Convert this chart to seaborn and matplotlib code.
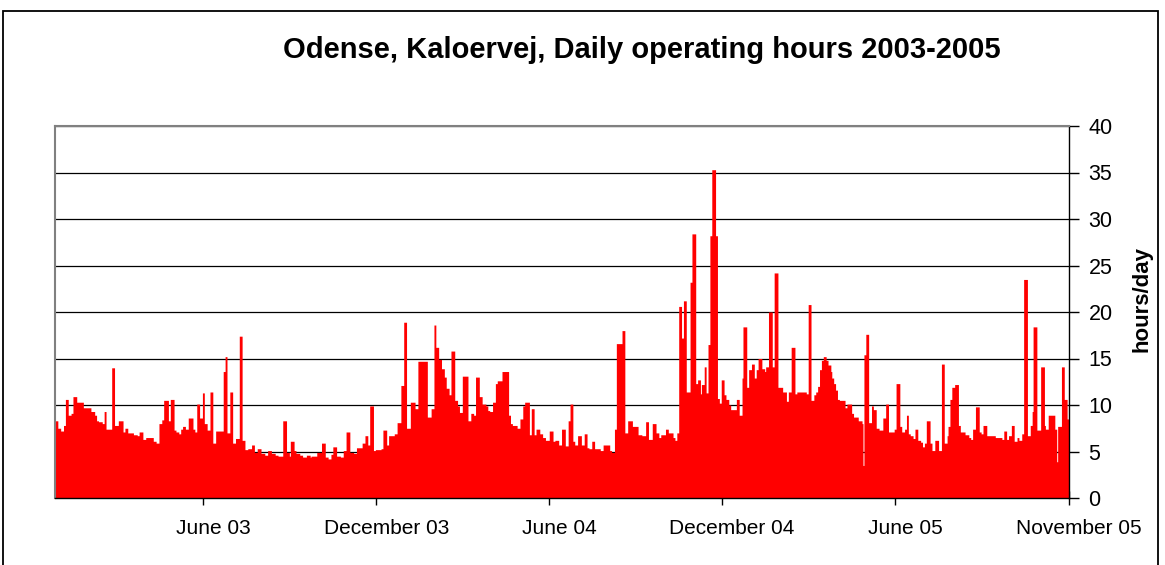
import numpy as np
import pandas as pd
import matplotlib
matplotlib.use("Agg")
import matplotlib.pyplot as plt
import seaborn as sns
from matplotlib.patches import Rectangle
from matplotlib.transforms import ScaledTranslation

title = "Odense, Kaloervej, Daily operating hours 2003-2005"
y_label = "hours/day"
tick_labels = ["June 03", "December 03", "June 04", "December 04", "June 05", "November 05"]
tick_days = [157, 340, 523, 706, 889, 1073]
y_ticks = [0, 5, 10, 15, 20, 25, 30, 35, 40]

# Daily operating hours: value (hours/day) and run length (days)
hours_1 = [8.3, 7.5, 7.2, 7.8, 10.6, 8.9, 9.1, 10.9, 10.3, 9.7, 9.3, 8.9, 8.3, 8.2, 8.0, 9.3, 7.4, 14.0,
           7.8, 8.3, 7.1, 7.5, 7.0, 6.8, 6.7, 7.1, 6.3, 6.5, 6.1, 5.9, 8.0, 8.4, 10.5, 8.3, 10.6, 7.3,
           7.1, 6.9, 7.4, 7.7, 7.4, 8.6, 7.4, 7.1, 10.1, 8.6, 11.3, 8.0, 7.3, 11.4, 5.9, 7.2, 13.6, 15.2,
           7.0, 11.4, 5.9, 6.4, 17.4, 6.2, 5.2, 5.3, 5.7, 4.9, 5.3, 4.8, 4.6, 5.1, 4.8, 4.6, 4.5, 8.3,
           4.9, 4.5, 6.1, 5.1, 4.8, 4.6, 4.4, 4.6, 4.4, 4.5, 4.9, 5.9, 4.4, 4.2, 4.7, 5.5, 4.5, 4.4,
           5.1, 7.1, 4.9, 4.8, 5.4, 5.9, 6.7, 5.7, 9.9, 5.1, 5.2, 5.3, 7.3, 5.7, 6.7, 6.9, 8.1, 12.1,
           18.9]
days_1 = [3, 3, 3, 2, 3, 3, 2, 4, 7, 8, 4, 2, 2, 4, 2, 2, 6, 3,
          4, 5, 2, 3, 6, 4, 2, 4, 3, 8, 3, 3, 3, 2, 5, 2, 4, 2,
          3, 2, 2, 3, 3, 5, 2, 2, 3, 3, 2, 3, 3, 3, 3, 8, 2, 2,
          3, 3, 3, 4, 3, 3, 3, 4, 3, 3, 4, 4, 3, 4, 4, 3, 5, 4,
          3, 1, 4, 2, 4, 3, 4, 4, 1, 6, 5, 4, 3, 3, 2, 4, 4, 3,
          3, 4, 4, 3, 6, 3, 3, 2, 4, 2, 6, 2, 4, 2, 6, 3, 4, 3,
          3]

hours_2 = [7.5, 10.3, 9.6, 14.7, 8.7, 9.6, 18.6, 16.2, 14.9, 13.9, 13.0, 11.8, 11.1, 15.8, 10.5, 9.9,
           9.2, 13.1, 8.3, 9.1, 8.9, 13.0, 10.9, 10.1, 9.9, 9.4, 9.3, 10.3, 12.3, 12.6, 13.6, 8.9, 8.0,
           7.8, 7.5, 8.5, 9.9, 10.3, 6.8, 9.6, 6.8, 7.4, 6.9, 6.5, 6.2, 7.2, 6.1, 6.2, 5.7, 7.4, 5.6,
           8.3, 10.1, 6.1, 5.7, 6.7, 5.7, 6.9, 5.4, 5.3, 6.1, 5.3, 5.1, 5.7, 5.1, 4.9, 7.4, 16.6, 18.0,
           7.0, 8.3, 7.7, 6.8, 6.7, 8.2, 6.3, 8.0, 7.0, 6.5, 6.8, 7.4, 7.0, 6.5, 6.2, 7.0, 20.6, 17.2,
           21.2, 11.4, 23.2, 28.4, 12.3, 12.7, 11.2, 12.2, 14.1, 11.3, 16.5, 28.2, 35.3, 28.2, 10.7,
           10.2, 12.7, 11.1, 10.6, 10.0, 9.5, 10.6, 8.9, 12.9, 18.4, 11.9, 13.8, 14.4, 12.9, 13.8, 15.0,
           13.9, 13.6, 14.1, 20.0, 14.1, 24.2, 11.9]
days_2 = [4, 5, 3, 10, 4, 3, 2, 3, 3, 3, 2, 3, 2, 4, 3, 2,
          3, 6, 3, 3, 2, 4, 3, 4, 2, 2, 3, 3, 2, 5, 7, 2, 2,
          5, 3, 3, 2, 5, 2, 3, 2, 4, 3, 3, 4, 4, 2, 4, 3, 4, 3,
          2, 3, 2, 3, 4, 3, 3, 2, 3, 3, 6, 3, 7, 2, 3, 2, 6, 3,
          3, 5, 6, 4, 4, 3, 4, 4, 3, 2, 5, 3, 5, 2, 2, 2, 3, 2,
          3, 4, 2, 4, 2, 3, 1, 3, 2, 2, 2, 2, 4, 2, 2,
          2, 3, 2, 3, 2, 6, 3, 3, 1, 4, 2, 3, 3, 2, 2, 4,
          3, 1, 3, 4, 2, 4, 5]

hours_3 = [11.4, 10.4, 11.4, 16.2, 11.2, 11.4, 11.2, 20.8, 10.5, 11.1, 11.4, 12.0, 13.8, 14.8, 15.2,
           14.8, 14.3, 13.6, 12.9, 12.3, 11.6, 10.6, 10.5, 9.7, 10.1, 9.1, 8.7, 8.3, 8.0, 3.5, 15.4,
           17.6, 8.1, 9.9, 9.5, 7.5, 7.3, 8.6, 10.1, 7.1, 7.4, 12.3, 7.7, 7.1, 7.4, 8.9, 6.9, 6.7, 6.4,
           7.4, 6.2, 6.0, 5.5, 5.9, 8.3, 5.9, 5.1, 6.2, 5.1, 14.4, 5.9, 6.7, 7.7, 10.6, 11.9, 12.2, 7.8,
           7.1, 6.8, 6.5, 6.3, 7.4, 9.8, 7.1, 6.9, 7.8, 6.7, 6.5, 6.3, 7.2, 6.3, 6.7, 7.8, 6.1, 6.5,
           6.2, 6.9, 23.5, 6.7, 7.8, 9.3, 18.4, 7.3, 14.1, 7.8, 7.4, 8.9, 7.4, 3.9, 7.7, 14.1, 10.6, 8.5]
days_3 = [4, 2, 3, 4, 2, 10, 2, 3, 3, 2, 2, 2, 2, 2, 3,
          2, 3, 1, 2, 2, 2, 2, 6, 2, 5, 2, 5, 4, 1, 1, 2,
          3, 3, 2, 3, 3, 4, 3, 3, 6, 2, 4, 2, 3, 2, 2, 2, 3, 2,
          3, 3, 2, 2, 2, 4, 2, 3, 4, 3, 3, 3, 1, 2, 2, 3, 4, 2,
          5, 4, 2, 2, 3, 4, 2, 2, 4, 9, 7, 2, 3, 2, 3, 3, 3, 2,
          3, 2, 4, 3, 2, 1, 4, 4, 4, 1, 3, 7, 2, 1, 4, 3, 3, 2]

hours = np.repeat(np.concatenate([hours_1, hours_2, hours_3]),
                  np.concatenate([days_1, days_2, days_3]))
n_days = len(hours)
df = pd.DataFrame({"day": np.arange(n_days) + 0.5, "hours": hours})

sns.set_theme(style="white")
plt.rcParams["font.family"] = ["Liberation Sans", "DejaVu Sans"]

W, H = 1165, 565
fig = plt.figure(figsize=(W / 100, H / 100), dpi=100)
fig.patch.set_facecolor("white")
ax = fig.add_axes([55 / W, 1 - 498 / H, 1014 / W, 372 / H])

sns.histplot(data=df, x="day", weights="hours", binwidth=1, binrange=(0, n_days),
             element="step", fill=True, color="#ff0000", alpha=1.0, linewidth=0, ax=ax)

ax.set_xlim(0, n_days)
ax.set_ylim(0, 40)
ax.set_yticks(y_ticks)
ax.set_xticks(tick_days)
ax.set_xticklabels(tick_labels)
ax.set_xlabel("")

ax.set_axisbelow(True)
ax.yaxis.grid(True, color="black", linewidth=0.9)
ax.xaxis.grid(False)

for side in ["left", "top"]:
    ax.spines[side].set_color("#808080")
    ax.spines[side].set_linewidth(1.5)
for side in ["right", "bottom"]:
    ax.spines[side].set_color("black")
    ax.spines[side].set_linewidth(1.0)
    ax.spines[side].set_visible(True)

ax.yaxis.tick_right()
ax.tick_params(axis="y", which="major", direction="out", length=7, width=1, color="black",
               labelsize=15.5, pad=7, left=False, right=True, labelleft=False, labelright=True,
               labelcolor="black")
ax.tick_params(axis="x", which="major", direction="inout", length=10, width=1, color="black",
               labelsize=15, pad=10, bottom=True, labelbottom=True, labelcolor="black")

offset = ScaledTranslation(10 / 100, 0, fig.dpi_scale_trans)
for lbl in ax.get_xticklabels():
    lbl.set_transform(lbl.get_transform() + offset)

ax.set_ylabel(y_label, fontsize=16, fontweight="bold", color="black")
ax.yaxis.set_label_position("right")
ax.yaxis.set_label_coords(1.062, 0.535)

fig.text(642 / W, 1 - 50 / H, title, ha="center", va="center",
         fontsize=21, fontweight="bold", color="black")

fig.patches.append(Rectangle((3 / W, -0.05), (1158 - 3) / W, 1 - 11 / H + 0.05,
                             transform=fig.transFigure, fill=False,
                             edgecolor="black", linewidth=1.3))

fig.savefig("out.png", dpi=100, facecolor="white")
